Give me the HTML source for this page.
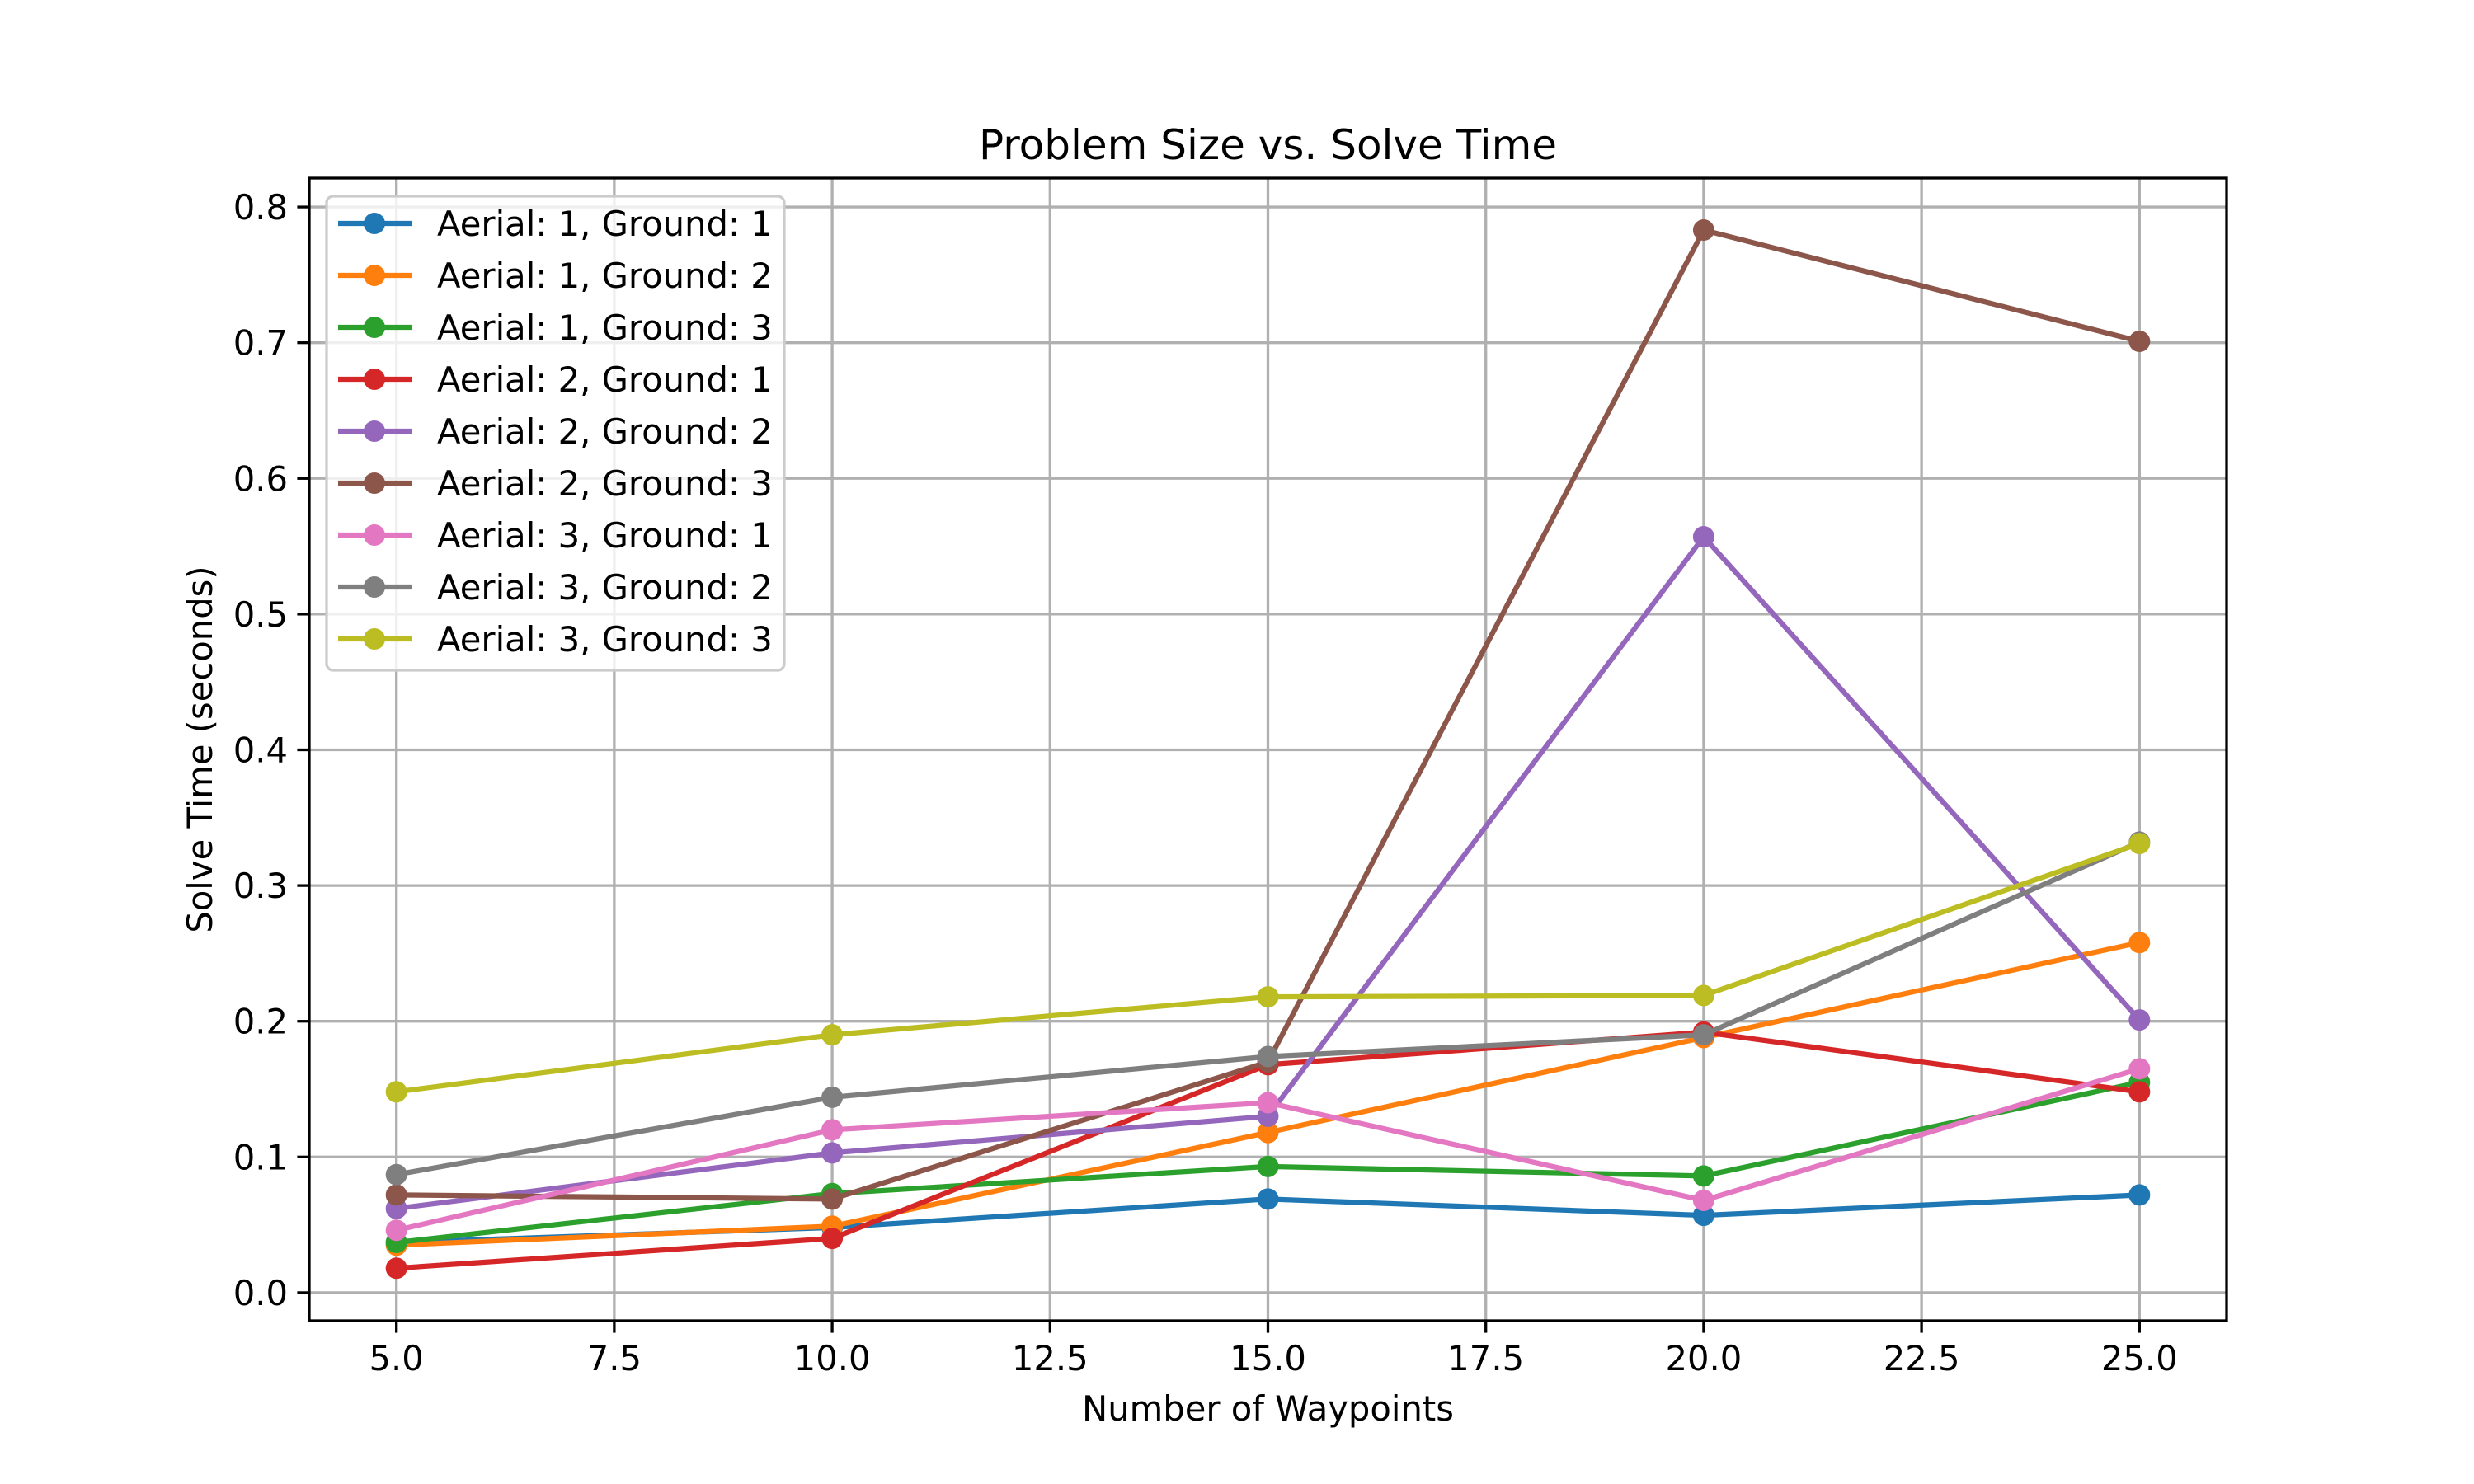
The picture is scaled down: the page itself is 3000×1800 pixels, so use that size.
<!DOCTYPE html>
<html><head><meta charset="utf-8"><style>html,body{margin:0;padding:0;background:#fff}svg{display:block}text{font-family:"DejaVu Sans","Liberation Sans",sans-serif}</style></head>
<body>
<svg id="chart" width="3000" height="1800" viewBox="0 0 3000 1800" xmlns="http://www.w3.org/2000/svg">
<rect width="3000" height="1800" fill="#fff"/>
<g id="grid"></g><g id="series"></g><g id="axes"></g><g id="legend"></g>
</svg>
<script>
const categories=[5,10,15,20,25];
const seriesNames=["Aerial: 1, Ground: 1","Aerial: 1, Ground: 2","Aerial: 1, Ground: 3","Aerial: 2, Ground: 1","Aerial: 2, Ground: 2","Aerial: 2, Ground: 3","Aerial: 3, Ground: 1","Aerial: 3, Ground: 2","Aerial: 3, Ground: 3"];
const s11=[0.037,0.048,0.069,0.057,0.072];
const s12=[0.035,0.049,0.118,0.188,0.258];
const s13=[0.037,0.073,0.093,0.086,0.155];
const s21=[0.018,0.040,0.168,0.192,0.148];
const s22=[0.062,0.103,0.130,0.557,0.201];
const s23=[0.072,0.069,0.170,0.783,0.701];
const s31=[0.046,0.120,0.140,0.068,0.165];
const s32=[0.087,0.144,0.174,0.190,0.332];
const s33=[0.148,0.190,0.218,0.219,0.331];
const xTicks=["5.0","7.5","10.0","12.5","15.0","17.5","20.0","22.5","25.0"];
const yTicks=["0.0","0.1","0.2","0.3","0.4","0.5","0.6","0.7","0.8"];
const colors=["#1f77b4","#ff7f0e","#2ca02c","#d62728","#9467bd","#8c564b","#e377c2","#7f7f7f","#bcbd22"];
const allSeries=[s11,s12,s13,s21,s22,s23,s31,s32,s33];
const L=375,R=2700,T=216,B=1602;
const xmin=4,xmax=26,ymin=-0.0207,ymax=0.8213;
const X=v=>L+(v-xmin)/(xmax-xmin)*(R-L);
const Y=v=>B-(v-ymin)/(ymax-ymin)*(B-T);
const NS="http://www.w3.org/2000/svg";
function mk(tag,attrs,parent){const e=document.createElementNS(NS,tag);for(const k in attrs)e.setAttribute(k,attrs[k]);parent.appendChild(e);return e;}
const grid=document.getElementById('grid'),ser=document.getElementById('series'),ax=document.getElementById('axes'),lg=document.getElementById('legend');
xTicks.forEach(t=>{const x=X(parseFloat(t));
 const g=mk('line',{x1:x,x2:x,y1:T,y2:B,stroke:'#b0b0b0','stroke-width':3.3},grid);
 
 
 const tk=mk('line',{x1:x,x2:x,y1:B,y2:B+14.6,stroke:'#000','stroke-width':3.3},ax);
 
 
 const tx=mk('text',{x:x,y:B+60,'font-size':41.7,'text-anchor':'middle'},ax);tx.textContent=t;
 
 
});
yTicks.forEach(t=>{const y=Y(parseFloat(t));
 const g=mk('line',{x1:L,x2:R,y1:y,y2:y,stroke:'#b0b0b0','stroke-width':3.3},grid);
 
 
 const tk=mk('line',{x1:L-14.6,x2:L,y1:y,y2:y,stroke:'#000','stroke-width':3.3},ax);
 
 
 const tx=mk('text',{x:L-26,y:y+15,'font-size':41.7,'text-anchor':'end'},ax);tx.textContent=t;
 
 
});
allSeries.forEach((s,i)=>{
 const g=mk('g',{},ser);
 
 
 const pl=mk('polyline',{points:s.map((v,j)=>X(categories[j])+','+Y(v)).join(' '),fill:'none',stroke:colors[i],'stroke-width':6.25,'stroke-linejoin':'round','stroke-linecap':'square'},g);
 
 
 s.forEach((v,j)=>{const c=mk('circle',{cx:X(categories[j]),cy:Y(v),r:13,fill:colors[i]},g);
  
  });
});
const fr=mk('rect',{x:L,y:T,width:R-L,height:B-T,fill:'none',stroke:'#000','stroke-width':3.3},ax);


const ti=mk('text',{x:(L+R)/2,y:193,'font-size':50,'text-anchor':'middle'},ax);ti.textContent='Problem Size vs. Solve Time';


const xl=mk('text',{x:(L+R)/2,y:1723,'font-size':41.7,'text-anchor':'middle'},ax);xl.textContent='Number of Waypoints';


const yl=mk('text',{x:0,y:0,'font-size':41.7,'text-anchor':'middle',transform:'translate(257,'+((T+B)/2)+') rotate(-90)'},ax);yl.textContent='Solve Time (seconds)';


const lb=mk('rect',{x:396,y:238,width:555,height:575,rx:8,fill:'#fff','fill-opacity':0.8,stroke:'#cccccc','stroke-width':3.3},lg);


seriesNames.forEach((n,i)=>{const y=271+i*63;
 const g=mk('g',{},lg);
 
 
 mk('line',{x1:410,x2:499,y1:y,y2:y,stroke:colors[i],'stroke-width':6.25},g);
 mk('circle',{cx:454,cy:y,r:13,fill:colors[i]},g);
 const t=mk('text',{x:530,y:y+15,'font-size':41.7},g);t.textContent=n;
});
</script>
</body></html>
